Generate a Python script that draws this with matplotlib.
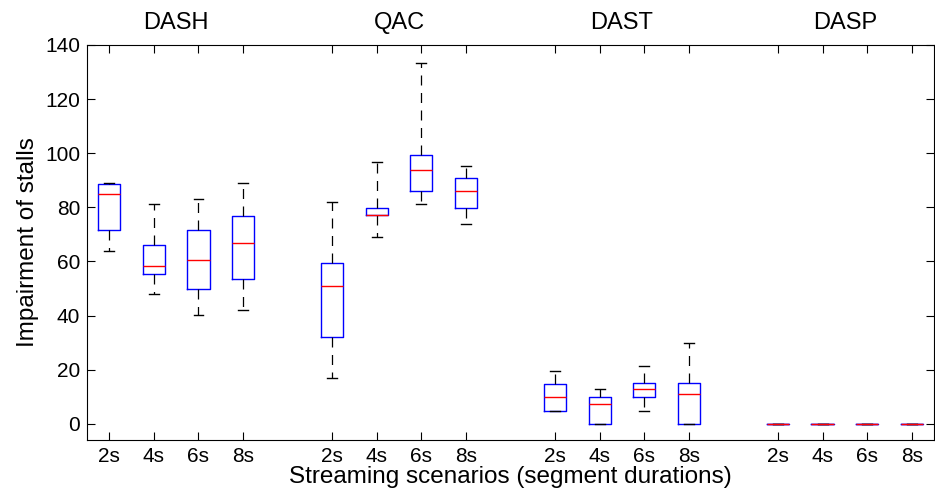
import matplotlib
matplotlib.use("Agg")
import matplotlib.pyplot as plt

plt.rcParams['font.family'] = ['Liberation Sans', 'DejaVu Sans']

groups = ['DASH', 'QAC', 'DAST', 'DASP']
durations = ['2s', '4s', '6s', '8s']

# box statistics, 4 durations per group
medians = [84.8, 58.3, 60.6, 66.7,
           50.9, 77.2, 93.9, 86.0,
           9.8, 7.5, 12.8, 11.1,
           0.0, 0.0, 0.0, 0.0]
q1 = [71.5, 55.2, 49.9, 53.5,
      32.2, 77.0, 86.0, 79.9,
      4.9, 0.0, 9.8, 0.0,
      0.0, 0.0, 0.0, 0.0]
q3 = [88.5, 66.0, 71.5, 76.9,
      59.4, 79.9, 99.4, 90.9,
      14.7, 9.8, 15.2, 15.2,
      0.0, 0.0, 0.0, 0.0]
whis_lo = [63.7, 47.9, 40.1, 41.9,
           17.0, 69.1, 81.4, 73.9,
           4.9, 0.0, 4.9, 0.0,
           0.0, 0.0, 0.0, 0.0]
whis_hi = [89.0, 81.2, 83.0, 89.0,
           81.9, 96.9, 133.3, 95.3,
           19.4, 12.7, 21.4, 29.7,
           0.0, 0.0, 0.0, 0.0]

positions = []
for g in range(len(groups)):
    for d in range(len(durations)):
        positions.append(1 + g * 5 + d)

stats = []
for i in range(len(medians)):
    stats.append(dict(med=medians[i], q1=q1[i], q3=q3[i],
                      whislo=whis_lo[i], whishi=whis_hi[i], fliers=[]))

fig = plt.figure(figsize=(9.35, 4.99), dpi=100)
ax = fig.add_axes([0.093, 0.118, 0.906, 0.792])

ax.bxp(stats, positions=positions, widths=0.5, showfliers=False,
       boxprops=dict(color='blue', linewidth=1.0),
       medianprops=dict(color='red', linewidth=1.0),
       whiskerprops=dict(color='black', linewidth=0.9, linestyle=(0, (8, 6))),
       capprops=dict(color='black', linewidth=1.0),
       capwidths=0.22)

ax.set_xlim(0.5, 19.5)
ax.set_ylim(-6, 140)
ax.set_yticks(range(0, 141, 20))
ax.set_xticks(positions)
ax.set_xticklabels(durations * len(groups))
ax.tick_params(direction='in', top=True, right=True, labelsize=15, length=6)
ax.tick_params(axis='x', pad=5)
ax.tick_params(axis='y', pad=5)

# group names above the axes, centred on each group of four boxes
for g, name in enumerate(groups):
    xc = 1 + g * 5 + 1.5
    ax.text(xc, 146, name, ha='center', va='baseline', fontsize=17)

ax.set_ylabel('Impairment of stalls', fontsize=17.5, labelpad=4)
ax.set_xlabel('Streaming scenarios (segment durations)', fontsize=17.5, labelpad=0)

fig.savefig('out.png', dpi=100)
